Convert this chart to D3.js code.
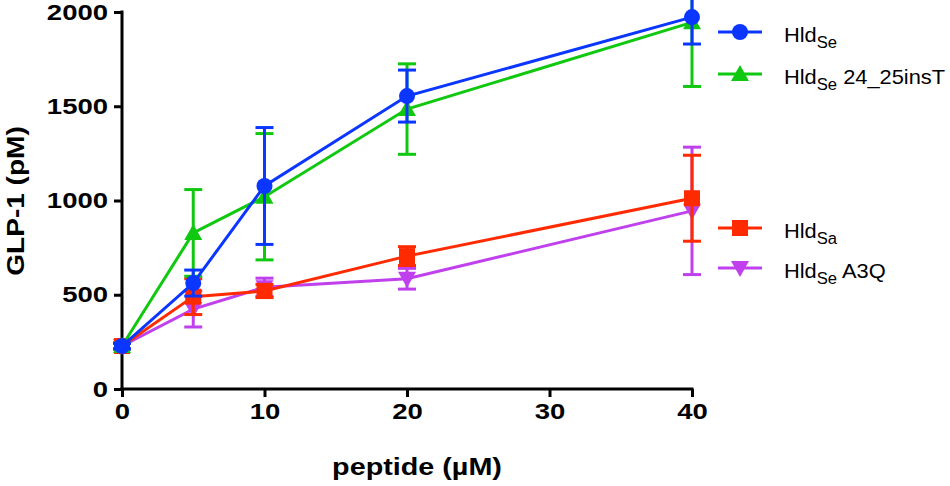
<!DOCTYPE html>
<html>
<head>
<meta charset="utf-8">
<script src="https://cdn.jsdelivr.net/npm/d3@7"></script>
<style>
  body { margin: 0; background: #fff; }
  svg { display: block; font-family: "Liberation Sans", Arial, sans-serif; }
</style>
</head>
<body>
<div id="chart"></div>
<script>
// peptide concentrations (µM)
const doses = [0, 5, 10, 20, 40];

// GLP-1 (pM) mean and SD per series
const hldSe = [228, 562, 1077, 1554, 1973];
const hldSeErr = [15, 69, 310, 138, 143];
const hldSeIns = [228, 828, 1020, 1485, 1945];
const hldSeInsErr = [15, 230, 335, 240, 340];
const hldSa = [228, 490, 520, 705, 1012];
const hldSaErr = [15, 95, 35, 50, 228];
const hldSeA3Q = [228, 424, 540, 585, 945];
const hldSeA3QErr = [15, 95, 48, 55, 338];

const xTicks = [0, 10, 20, 30, 40];
const yTicks = [0, 500, 1000, 1500, 2000];

const series = [
  { name: "HldSe A3Q", main: "Hld", sub: "Se", rest: " A3Q", values: hldSeA3Q, err: hldSeA3QErr, color: "#C040EE", symbol: "down", legendY: 268 },
  { name: "HldSa", main: "Hld", sub: "Sa", rest: "", values: hldSa, err: hldSaErr, color: "#FF2A00", symbol: "square", legendY: 228 },
  { name: "HldSe 24_25insT", main: "Hld", sub: "Se", rest: " 24_25insT", values: hldSeIns, err: hldSeInsErr, color: "#10C810", symbol: "up", legendY: 74 },
  { name: "HldSe", main: "Hld", sub: "Se", rest: "", values: hldSe, err: hldSeErr, color: "#0A36FF", symbol: "circle", legendY: 32 }
];

const width = 950, height = 486;
const stretch = 1.25; // the original figure's text is a bit wider than Arial
const svg = d3.select("#chart").append("svg")
  .attr("width", width).attr("height", height);

const x = d3.scaleLinear().domain([0, 40]).range([122, 692]);
const y = d3.scaleLinear().domain([0, 2000]).range([389, 12]);

// axes
const xAxis = svg.append("g").attr("transform", `translate(0,${y(0)})`)
  .call(d3.axisBottom(x).tickValues(xTicks).tickFormat(d3.format("d"))
    .tickSize(8).tickPadding(6).tickSizeOuter(0));
const yAxis = svg.append("g").attr("transform", `translate(${x(0)},0)`)
  .call(d3.axisLeft(y).tickValues(yTicks).tickFormat(d3.format("d"))
    .tickSize(8).tickPadding(4).tickSizeOuter(0));

[xAxis, yAxis].forEach(g => {
  g.select(".domain").attr("stroke", "#000").attr("stroke-width", 3);
  g.selectAll(".tick line").attr("stroke", "#000").attr("stroke-width", 3);
  g.selectAll(".tick text").attr("fill", "#000")
    .style("font-size", "22px").style("font-weight", "bold")
    .attr("transform", `scale(${stretch},1)`);
});
yAxis.selectAll(".tick text").attr("x", -14 / stretch);
// extend axis lines slightly so the corner closes
xAxis.select(".domain").attr("d", `M${x(0) - 1.5},0H${x(40) + 1.5}`);
yAxis.select(".domain").attr("d", `M0,${y(2000) - 1.5}V${y(0) + 1.5}`);

svg.append("text")
  .attr("transform", `translate(417,475) scale(${stretch},1)`)
  .attr("text-anchor", "middle")
  .style("font-size", "23px").style("font-weight", "bold")
  .text("peptide (µM)");

svg.append("text")
  .attr("transform", `translate(24,201) rotate(-90) scale(1.22,1)`)
  .attr("text-anchor", "middle")
  .style("font-size", "23px").style("font-weight", "bold")
  .text("GLP-1 (pM)");

function drawSymbol(g, type, cx, cy, color) {
  if (type === "circle") {
    g.append("circle").attr("cx", cx).attr("cy", cy).attr("r", 8).attr("fill", color);
  } else if (type === "square") {
    g.append("rect").attr("x", cx - 8).attr("y", cy - 8).attr("width", 16).attr("height", 16).attr("fill", color);
  } else {
    const s = type === "up" ? -1 : 1;
    g.append("path")
      .attr("d", `M${cx - 9},${cy - s * 7}L${cx + 9},${cy - s * 7}L${cx},${cy + s * 9}Z`)
      .attr("fill", color);
  }
}

const line = d3.line().x((d, i) => x(doses[i])).y(d => y(d));

series.forEach(s => {
  const g = svg.append("g");
  // error bars
  s.values.forEach((v, i) => {
    const cx = x(doses[i]);
    const top = y(v + s.err[i]), bot = y(v - s.err[i]);
    g.append("line").attr("x1", cx).attr("x2", cx).attr("y1", top).attr("y2", bot)
      .attr("stroke", s.color).attr("stroke-width", 3);
    [top, bot].forEach(yy => g.append("line")
      .attr("x1", cx - 9).attr("x2", cx + 9).attr("y1", yy).attr("y2", yy)
      .attr("stroke", s.color).attr("stroke-width", 3));
  });
  g.append("path").datum(s.values).attr("d", line)
    .attr("fill", "none").attr("stroke", s.color).attr("stroke-width", 3);
  s.values.forEach((v, i) => drawSymbol(g, s.symbol, x(doses[i]), y(v), s.color));

  // legend entry
  const lg = svg.append("g");
  lg.append("line").attr("x1", 718).attr("x2", 762).attr("y1", s.legendY).attr("y2", s.legendY)
    .attr("stroke", s.color).attr("stroke-width", 3);
  drawSymbol(lg, s.symbol, 740, s.legendY, s.color);
  const t = lg.append("text")
    .attr("transform", `translate(784,${s.legendY + 10}) scale(1.04,1)`)
    .style("font-size", "21px").attr("fill", "#000");
  t.append("tspan").text(s.main);
  t.append("tspan").attr("dy", 6).style("font-size", "16px").text(s.sub);
  if (s.rest) t.append("tspan").attr("dy", -6).text(s.rest);
});
</script>
</body>
</html>
